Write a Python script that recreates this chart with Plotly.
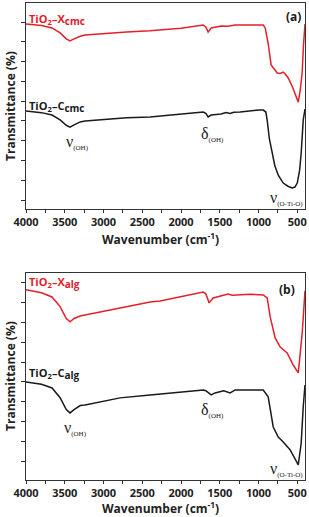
import plotly.graph_objects as go

# ---------------- data ----------------
# Panel (a)
wn_a_red = [4000, 3800, 3664, 3560, 3480, 3432, 3380, 3300, 3238, 3000, 2700, 2400, 2269, 2000,
            1714, 1680, 1650, 1610, 1482, 1400, 1300, 1200, 1100, 1000, 939, 913, 875, 837,
            790, 758, 720, 681, 650, 616, 560, 520, 487, 460, 436, 420, 410, 400]
t_a_red = [8.90, 8.82, 8.70, 8.45, 8.15, 8.04, 8.15, 8.28, 8.34, 8.42, 8.50, 8.56, 8.59, 8.68,
           8.85, 8.75, 8.49, 8.70, 8.80, 8.78, 8.85, 8.84, 8.86, 8.85, 8.85, 8.70, 7.90, 6.83,
           6.55, 6.42, 6.40, 6.47, 6.35, 6.17, 5.70, 5.30, 4.95, 5.60, 6.47, 7.80, 8.75, 8.90]

wn_a_blk = [4000, 3800, 3664, 3560, 3480, 3432, 3380, 3300, 3238, 3000, 2700, 2400, 2269, 2000,
            1714, 1680, 1650, 1610, 1482, 1420, 1366, 1320, 1237, 1000, 939, 905, 888, 860,
            823, 790, 745, 700, 681, 620, 565, 530, 500, 470, 449, 423, 410, 400]
t_a_blk = [4.50, 4.42, 4.30, 4.05, 3.78, 3.69, 3.80, 3.95, 4.00, 4.08, 4.16, 4.20, 4.25, 4.33,
           4.45, 4.38, 4.20, 4.30, 4.35, 4.42, 4.38, 4.44, 4.45, 4.55, 4.55, 4.45, 4.04, 3.10,
           2.38, 1.75, 1.26, 0.98, 0.86, 0.70, 0.61, 0.66, 0.86, 1.50, 2.38, 4.04, 4.45, 4.60]

# Panel (b)
wn_b_red = [4000, 3800, 3664, 3560, 3480, 3432, 3380, 3300, 3238, 2786, 2398, 2269, 1778, 1714,
            1680, 1637, 1585, 1450, 1392, 1340, 1301, 1100, 939, 888, 849, 785, 720, 630,
            552, 487, 436, 410, 400]
t_b_red = [8.65, 8.50, 8.29, 7.80, 7.20, 7.03, 7.20, 7.33, 7.38, 7.74, 8.04, 8.09, 8.50, 8.54,
           8.45, 7.99, 8.24, 8.40, 8.44, 8.38, 8.39, 8.42, 8.39, 8.24, 7.28, 6.22, 5.76, 5.46,
           4.85, 4.45, 6.47, 8.49, 8.60]

wn_b_blk = [4000, 3800, 3664, 3560, 3480, 3432, 3380, 3300, 3238, 2980, 2786, 2398, 2269, 1714,
            1680, 1611, 1560, 1450, 1366, 1301, 939, 875, 810, 745, 681, 591, 487, 449,
            423, 400]
t_b_blk = [3.99, 3.88, 3.69, 3.20, 2.60, 2.43, 2.60, 2.80, 2.83, 3.03, 3.19, 3.34, 3.39, 3.59,
           3.55, 3.34, 3.44, 3.55, 3.44, 3.59, 3.59, 3.24, 1.72, 1.21, 0.96, 0.56, -0.20, 0.91,
           2.73, 3.84]

x_label_ticks = [4000, 3500, 3000, 2500, 2000, 1500, 1000, 500]
x_minor_ticks = [3750, 3250, 2750, 2250, 1750, 1250, 750]
y_ticks = [0, 1, 2, 3, 4, 5, 6, 7, 8, 9]

RED = "#e3202a"
BLK = "#1a1a1a"
W, H = 309, 517

fig = go.Figure()
fig.add_trace(go.Scatter(x=wn_a_red, y=t_a_red, mode="lines", line=dict(color=RED, width=1.5),
                         xaxis="x", yaxis="y", showlegend=False))
fig.add_trace(go.Scatter(x=wn_a_blk, y=t_a_blk, mode="lines", line=dict(color=BLK, width=1.5),
                         xaxis="x", yaxis="y", showlegend=False))
fig.add_trace(go.Scatter(x=wn_b_red, y=t_b_red, mode="lines", line=dict(color=RED, width=1.5),
                         xaxis="x2", yaxis="y2", showlegend=False))
fig.add_trace(go.Scatter(x=wn_b_blk, y=t_b_blk, mode="lines", line=dict(color=BLK, width=1.5),
                         xaxis="x2", yaxis="y2", showlegend=False))

xdom = [26 / W, 305 / W]
common_x = dict(range=[4000, 400], domain=xdom, showline=True, linecolor="#333", linewidth=1,
                mirror=True, ticks="outside", ticklen=3, tickcolor="#333", tickwidth=1,
                tickvals=x_label_ticks, showgrid=False, zeroline=False, automargin=False,
                minor=dict(tickvals=x_minor_ticks, ticks="outside", ticklen=3, tickcolor="#333",
                           showgrid=False),
                tickfont=dict(family="Open Sans", size=11, color="#222", weight="bold"))
common_y = dict(showline=True, linecolor="#333", linewidth=1, mirror=True, ticks="outside",
                ticklen=4, tickcolor="#333", tickwidth=1, tickvals=y_ticks, showticklabels=False,
                showgrid=False, zeroline=False, automargin=False)

fig.update_layout(
    width=W, height=H, margin=dict(l=0, r=0, t=0, b=0, autoexpand=False),
    paper_bgcolor="white", plot_bgcolor="white",
    xaxis=dict(anchor="y", **common_x),
    yaxis=dict(anchor="x", domain=[1 - 209 / H, 1 - 3 / H], range=[-0.45, 9.96], **common_y),
    xaxis2=dict(anchor="y2", **common_x),
    yaxis2=dict(anchor="x2", domain=[1 - 480 / H, 1 - 273 / H], range=[-0.96, 9.5], **common_y),
)

lab = dict(family="Open Sans", size=11, weight="bold")
greek = dict(family="Liberation Serif", size=16, color=BLK)
sub_small = "<span style='font-size:7px'>"
sub_big = "<span style='font-size:10px'>"
title_font = dict(family="Open Sans", size=12, color="#222", weight="bold")


def sample_label(letter, suffix):
    return "TiO<sub>2</sub>–" + letter + "<sub>" + sub_big + suffix + "</span></sub>"


anns = [
    # panel (a)
    dict(x=3990, y=9.15, xref="x", yref="y", text=sample_label("X", "cmc"),
         font=dict(color=RED, **lab), xanchor="left", yanchor="middle", showarrow=False),
    dict(x=3990, y=4.72, xref="x", yref="y", text=sample_label("C", "cmc"),
         font=dict(color=BLK, **lab), xanchor="left", yanchor="middle", showarrow=False),
    dict(x=3341, y=2.9, xref="x", yref="y", text="ν<sub>" + sub_small + "(OH)</span></sub>",
         font=greek, showarrow=False),
    dict(x=1598, y=3.3, xref="x", yref="y", text="δ<sub>" + sub_small + "(OH)</span></sub>",
         font=greek, showarrow=False),
    dict(x=405, y=0.1, xref="x", yref="y", text="ν<sub>" + sub_small + "(O-Ti-O)</span></sub>",
         font=greek, xanchor="right", showarrow=False),
    dict(x=552, y=9.3, xref="x", yref="y", text="(a)",
         font=dict(family="Open Sans", size=12, color=BLK, weight="bold"), showarrow=False),
    # panel (b)
    dict(x=3990, y=9.0, xref="x2", yref="y2", text=sample_label("X", "alg"),
         font=dict(color=RED, **lab), xanchor="left", yanchor="middle", showarrow=False),
    dict(x=3990, y=4.4, xref="x2", yref="y2", text=sample_label("C", "alg"),
         font=dict(color=BLK, **lab), xanchor="left", yanchor="middle", showarrow=False),
    dict(x=3367, y=1.65, xref="x2", yref="y2", text="ν<sub>" + sub_small + "(OH)</span></sub>",
         font=greek, showarrow=False),
    dict(x=1598, y=2.55, xref="x2", yref="y2", text="δ<sub>" + sub_small + "(OH)</span></sub>",
         font=greek, showarrow=False),
    dict(x=405, y=-0.45, xref="x2", yref="y2", text="ν<sub>" + sub_small + "(O-Ti-O)</span></sub>",
         font=greek, xanchor="right", showarrow=False),
    dict(x=630, y=8.65, xref="x2", yref="y2", text="(b)",
         font=dict(family="Open Sans", size=12, color=BLK, weight="bold"), showarrow=False),
    # axis titles
    dict(x=10 / W, y=1 - 106 / H, xref="paper", yref="paper", text="Transmittance (%)",
         textangle=-90, font=title_font, xanchor="center", yanchor="middle", showarrow=False),
    dict(x=10 / W, y=1 - 376 / H, xref="paper", yref="paper", text="Transmittance (%)",
         textangle=-90, font=title_font, xanchor="center", yanchor="middle", showarrow=False),
    dict(x=160 / W, y=1 - 239 / H, xref="paper", yref="paper", text="Wavenumber (cm<sup>-1</sup>)",
         font=title_font, xanchor="center", yanchor="middle", showarrow=False),
    dict(x=160 / W, y=1 - 508 / H, xref="paper", yref="paper", text="Wavenumber (cm<sup>-1</sup>)",
         font=title_font, xanchor="center", yanchor="middle", showarrow=False),
]
fig.update_layout(annotations=anns)

fig.write_html("out.html", config={"displayModeBar": False},
               post_script="document.body.style.margin='0px';")
